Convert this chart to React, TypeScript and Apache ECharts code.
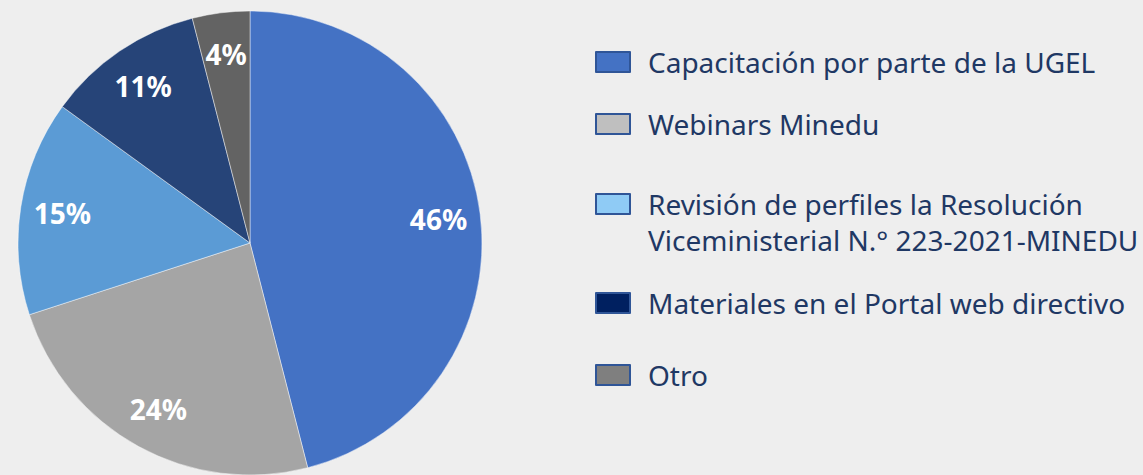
import React, { useEffect, useRef } from "react";
import * as echarts from "echarts";

const categories = [
  "Capacitación por parte de la UGEL",
  "Webinars Minedu",
  "Revisión de perfiles la Resolución\nViceministerial N.° 223-2021-MINEDU",
  "Materiales en el Portal web directivo",
  "Otro",
];
const values = [46, 24, 15, 11, 4];
const sliceColors = ["#4472C4", "#A5A5A5", "#5B9BD5", "#264478", "#636363"];
const legendColors = ["#4472C4", "#BFBFBF", "#8FCBF5", "#002060", "#7F7F7F"];
const legendIconCenters = [64, 126, 206, 305, 377];

export default function App() {
  const ref = useRef<HTMLDivElement>(null);
  useEffect(() => {
    if (!ref.current) return;
    const chart = echarts.init(ref.current, null, { renderer: "svg" });
    const data = categories.map((name, i) => ({
      name,
      value: values[i],
      itemStyle: { color: sliceColors[i] },
    }));
    const textColor = "#1F3864";
    const font = "'Noto Sans', 'Open Sans', sans-serif";
    const lineH = 35.5;
    const legends = categories.map((name, i) => {
      const multi = name.includes("\n");
      const lines = multi ? 3 : 1;
      const boxH = lineH * lines;
      return {
        show: true,
        left: 595,
        top: legendIconCenters[i] - boxH / 2 - 2,
        padding: 0,
        orient: "vertical" as const,
        icon: "rect",
        itemWidth: 34,
        itemHeight: 20,
        selectedMode: false,
        formatter: (n: string) => (multi ? "\n" + n : n),
        data: [
          {
            name,
            itemStyle: {
              color: legendColors[i],
              borderColor: "#2F5597",
              borderWidth: 2,
            },
          },
        ],
        textStyle: {
          color: textColor,
          fontFamily: font,
          fontSize: 28,
          lineHeight: lineH,
          padding: [0, 0, 0, 13],
        },
      };
    });
    chart.setOption({
      animation: false,
      backgroundColor: "#EEEEEE",
      legend: legends,
      series: [
        {
          type: "pie",
          center: [250, 243],
          radius: [0, 232],
          startAngle: 90,
          clockwise: true,
          data,
          label: { show: false },
          labelLine: { show: false },
          itemStyle: { borderColor: "rgba(255,255,255,0.45)", borderWidth: 1 },
          emphasis: { disabled: true },
        },
        {
          type: "pie",
          center: [250, 243],
          radius: [142, 232],
          startAngle: 90,
          clockwise: true,
          silent: true,
          data: categories.map((name, i) => ({ name, value: values[i] })),
          itemStyle: { color: "rgba(0,0,0,0)" },
          label: {
            show: true,
            position: "inside",
            formatter: "{c}%",
            color: "#FFFFFF",
            fontFamily: font,
            fontWeight: "bold",
            fontSize: 28,
          },
          labelLine: { show: false },
          emphasis: { disabled: true },
        },
      ],
    });
    return () => chart.dispose();
  }, []);
  return (
    <div
      ref={ref}
      style={{ position: "fixed", left: 0, top: 0, width: 1143, height: 475 }}
    />
  );
}
